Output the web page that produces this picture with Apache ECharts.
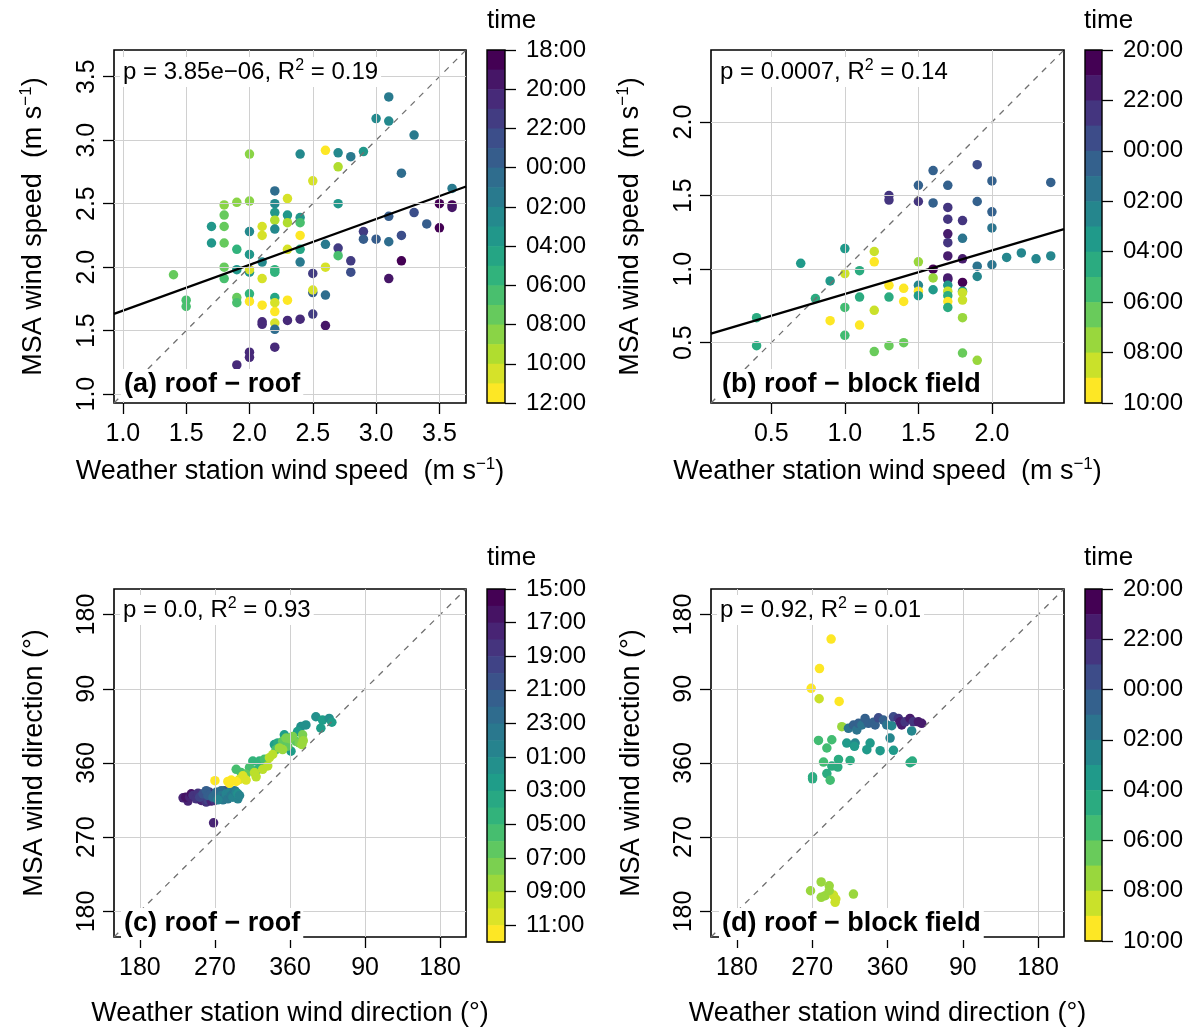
<!DOCTYPE html>
<html><head><meta charset="utf-8">
<script src="https://cdn.jsdelivr.net/npm/echarts@6/dist/echarts.min.js"></script>
<style>html,body{margin:0;padding:0;background:#fff}#c{width:1195px;height:1031px}</style>
</head><body><div id="c"></div>
<script>
// ---------------- DATA ----------------
// (a) roof - roof : wind speed
const aWs = [3.1,3.0,3.1,3.3,2.6,2.4,2.0,2.7,2.8,2.9, 2.7,3.2,2.5,2.2,2.3,3.6,1.8,1.9,2.0,2.2, 2.7,3.5,3.6,3.6,1.8,2.2,2.3,2.4,2.4,2.3, 2.2,2.2,1.7,1.8,2.1,2.0,2.1,2.4,3.3,3.4, 3.5,2.9,2.9,3.0,3.1,3.2,3.1,2.6,2.7,1.7, 1.8,1.9,2.0,2.1,2.3,2.4,2.4,2.7,2.8,3.2, 1.8,1.9,2.0,2.0,2.2,2.2,2.1,1.4,1.8,2.6, 2.5,2.8,3.1,1.5,1.5,1.9,1.9,2.0,2.0,2.1, 2.2,2.2,2.2,2.3,2.2,2.5,2.5,2.6,2.1,2.1, 2.2,2.3,2.4,2.5,2.6,2.2,2.0,2.0,1.9];
const aMsa = [3.34,3.17,3.15,3.04,2.92,2.89,2.89,2.90,2.87,2.91, 2.79,2.74,2.68,2.60,2.54,2.62,2.49,2.51,2.52,2.50, 2.50,2.50,2.49,2.47,2.41,2.43,2.41,2.39,2.35,2.35, 2.37,2.30,2.32,2.32,2.32,2.28,2.25,2.25,2.43,2.34, 2.31,2.28,2.22,2.22,2.20,2.25,2.40,2.18,2.15,2.19, 2.19,2.14,2.10,2.04,2.14,2.14,2.04,2.09,2.05,2.05, 2.00,1.98,1.96,1.98,1.98,1.96,1.91,1.94,1.91,2.00, 1.95,1.96,1.91,1.74,1.69,1.76,1.72,1.79,1.73,1.70, 1.76,1.72,1.65,1.74,1.56,1.80,1.82,1.78,1.57,1.55, 1.51,1.58,1.59,1.63,1.54,1.37,1.33,1.29,1.23];
const aTime = [1.5,2.5,2.5,1.5,11.5,2.5,8.5,2.5,1.0,3.0, 9.5,0.5,10.0,0.5,10.5,1.0,8.5,8.5,8.5,2.5, 3.0,18.5,18.5,19.5,7.5,3.0,3.5,3.5,6.5,9.0, 9.0,2.5,3.0,7.5,10.0,2.5,10.0,11.0,22.0,23.0, 18.5,21.5,23.5,23.5,0.0,22.0,23.0,1.0,21.5,3.0, 7.5,5.0,3.0,2.0,10.0,4.5,1.0,6.5,21.5,18.5, 7.0,3.5,3.5,10.5,5.0,5.5,10.0,7.0,6.5,10.0, 21.5,22.0,19.5,6.5,6.5,7.0,6.5,5.0,11.5,11.0, 4.0,10.5,11.5,11.5,10.5,23.5,10.0,0.5,20.5,20.0, 0.5,20.5,20.5,21.0,19.5,20.5,20.5,20.0,20.5];
const fitA = [1.296, 0.361];

// (b) roof - block field : wind speed
const bWs = [1.9,1.6,2.4,2.0,1.5,1.7,1.3,1.3,1.5,1.6, 1.7,1.9,2.0,1.7,1.8,2.0,1.7,1.8,1.7,1.0, 1.2,1.7,1.8,0.7,1.2,1.5,2.1,2.2,2.3,2.4, 1.6,1.9,2.0,1.0,1.1,0.9,1.6,1.7,1.7,1.8, 1.9,1.3,1.4,1.5,1.5,1.5,1.6,1.7,1.7,1.7, 1.7,1.7,1.8,1.8,1.8,1.8,0.8,1.1,1.3,1.4, 1.0,1.2,0.9,1.1,0.4,0.4,1.0,1.2,1.3,1.4, 1.8,1.9];
const bMsa = [1.71,1.67,1.59,1.60,1.57,1.57,1.50,1.47,1.46,1.45, 1.42,1.46,1.39,1.34,1.33,1.28,1.24,1.21,1.18,1.14, 1.12,1.09,1.07,1.04,1.05,1.05,1.08,1.11,1.07,1.09, 1.00,1.02,1.03,0.97,0.99,0.92,0.94,0.94,0.93,0.91, 0.95,0.89,0.87,0.89,0.85,0.82,0.86,0.89,0.85,0.82, 0.78,0.74,0.85,0.84,0.79,0.67,0.80,0.81,0.81,0.78, 0.74,0.72,0.65,0.62,0.67,0.48,0.55,0.44,0.48,0.50, 0.43,0.38];
const bTime = [23.5,0.5,0.5,0.5,0.5,0.5,22.5,22.5,22.5,0.0, 22.0,0.5,0.5,22.0,22.5,1.0,21.5,1.0,22.0,3.5, 8.5,21.5,21.5,3.5,9.0,7.5,2.0,2.0,2.0,2.0, 20.5,1.5,1.5,8.0,4.5,3.5,7.0,21.5,21.5,20.5, 2.5,9.0,9.5,2.5,9.0,3.0,3.5,3.0,8.0,4.0, 9.0,4.0,3.0,8.0,8.5,7.5,4.0,4.5,4.5,9.0, 5.0,8.0,9.0,9.5,4.0,4.5,5.5,6.0,6.0,6.5, 6.5,7.0];
const fitB = [0.535, 0.296];

// (c) roof - roof : wind direction (unwrapped degrees, 450 = 90)
const cWs = [237.7,231.8,235.0,239.7,241.7,243.7,247.7,249.7,253.7,255.7, 259.6,261.6,263.6,265.6,269.6,270.8,275.6,251.7,281.5,268.4,
 255.7,259.6,261.6,263.6,267.6,271.6,277.6,277.6,281.5,279.6, 273.6,283.5,285.5,287.5,289.5,291.5,293.5,295.5,297.5,297.5,299.5,
 373.1,379.1,391.0,399.0,407.0,410.2,397.0,369.1,361.2,341.3,353.2,349.2,
 345.3,325.4,315.4,323.4,321.4,329.3,311.4,301.4,295.5,343.3, 307.4,351.2,357.2,367.2,355.2,363.1,359.2,375.1,371.1,374.3, 375.9,351.2,347.2,339.3,327.3,335.3,333.3,319.4,317.4,
 307.4,303.4,299.5,295.5,289.5,287.5,285.5,270.0];
const cMsa = [313.8,317.8,318.6,318.6,322.6,320.6,316.6,323.4,314.6,318.6, 312.6,315.4,324.5,313.8,314.6,322.6,318.6,318.6,326.5,287.5,
 322.6,326.5,320.6,320.6,318.6,324.5,326.5,320.6,318.6,315.4, 315.4,322.6,316.6,324.5,320.6,318.6,326.5,324.5,316.6,322.6,320.6,
 404.2,406.2,416.1,412.1,414.1,409.4,402.2,398.2,374.3,382.3,394.2,384.3,
 384.3,360.4,362.4,362.4,352.4,364.4,354.4,348.4,352.4,376.3, 346.4,386.3,380.3,386.3,390.3,392.2,389.5,394.2,384.3,382.3, 387.1,376.3,378.3,370.3,352.4,366.4,356.4,343.3,348.4,
 339.3,344.4,340.1,337.7,339.3,335.3,337.7,338.5];
const cTime = [17.5,17.0,16.5,17.5,16.0,18.0,18.0,18.5,17.0,18.5, 18.0,19.0,18.5,17.5,18.0,19.0,19.5,19.5,20.0,17.5,
 20.5,21.0,21.0,21.5,22.0,22.5,22.0,23.0,22.5,23.5, 0.0,0.5,23.5,0.0,23.5,0.5,23.0,0.5,0.0,1.0,0.5,
 1.5,1.0,1.5,2.0,1.5,2.0,2.5,2.0,2.5,2.5,2.5,3.0,
 3.5,3.5,4.0,4.0,4.5,5.0,5.0,5.0,5.5,5.5, 6.0,6.0,6.5,6.5,7.0,7.0,7.5,7.5,7.5,8.0, 8.0,8.0,8.5,9.0,9.0,9.0,9.5,9.5,9.5,
 10.0,10.0,10.5,11.0,11.0,11.5,11.5,11.5];

// (d) roof - block field : wind direction
const dWs = [292.6,278.7,268.8,278.3,302.2,305.4, 313.3,319.3,323.3,325.3,329.3,333.2,337.2,343.2,345.2,349.2,355.1,359.1,365.1,367.1,373.0,375.0,377.0,381.0,386.9,390.9,396.9,400.9, 388.9,311.3,321.3,320.5,339.2,335.3,351.2,363.1,367.1,387.0,389.7,315.3,301.4,300.6,293.4,283.5,277.5,293.4,287.5,287.5,291.5,270.4,270.4, 280.7,268.0,290.3,280.7,285.5,295.4,298.2,297.4,319.3,290.3];
const dMsa = [510.3,474.5,450.6,437.9,434.7,404.1, 402.1,406.1,400.1,408.1,406.1,414.0,408.1,409.3,406.1,414.8,412.0,406.1,405.3,416.0,414.0,410.0,406.1,410.0,414.0,410.0,410.0,408.1, 398.9,384.2,384.2,380.2,384.2,376.2,375.0,390.2,375.4,360.3,362.3,363.1,364.3,355.1,356.3,361.1,387.4,388.2,378.2,347.2,339.2,343.2,340.8, 215.8,205.1,211.0,197.1,199.1,199.9,195.1,191.1,201.1,205.1];
const dTime = [9.5,9.0,9.5,8.5,9.0,7.5, 1.0,0.5,1.5,0.5,1.0,0.0,0.5,0.0,0.5,23.5,0.0,1.5,2.0,23.0,22.5,21.5,21.0,22.5,21.0,22.0,21.5,21.5, 2.5,3.0,2.5,3.0,3.0,3.5,3.0,2.5,3.0,4.0,4.0,4.0,4.0,4.5,4.5,5.0,5.5,5.5,5.0,4.5,5.0,4.5,4.5, 7.0,7.5,7.0,7.5,7.5,8.5,8.5,8.5,7.5,7.5];

// axis ticks
const speedTicksA = [1.0,1.5,2.0,2.5,3.0,3.5];
const speedTicksB = [0.5,1.0,1.5,2.0];
const dirTicks = [180,270,360,450,540];
const rangeA = [0.93,3.71];
const rangeB = [0.09,2.49];
const rangeDir = [149,571];

// colour bar (time) labels
const cbLabelsA = ['18:00','20:00','22:00','00:00','02:00','04:00','06:00','08:00','10:00','12:00'];
const cbLabelsB = ['20:00','22:00','00:00','02:00','04:00','06:00','08:00','10:00'];
const cbLabelsC = ['15:00','17:00','19:00','21:00','23:00','01:00','03:00','05:00','07:00','09:00','11:00'];
const cbLabelsD = ['20:00','22:00','00:00','02:00','04:00','06:00','08:00','10:00'];
const cbStart = [18,20,15,20];
const cbHours = [18,14,21,14];

const statTexts = ['p = 3.85e\u221206, R{sup|2} = 0.19','p = 0.0007, R{sup|2} = 0.14','p = 0.0, R{sup|2} = 0.93','p = 0.92, R{sup|2} = 0.01'];
const panelLabels = ['(a) roof \u2212 roof','(b) roof \u2212 block field','(c) roof \u2212 roof','(d) roof \u2212 block field'];

// ---------------- BUILD ----------------
const FONT = "'Liberation Sans', Arial, Helvetica, sans-serif";
const VIRIDIS = ['#440154','#482878','#3E4A89','#31688E','#26828E','#1F9E89','#35B779','#6DCD59','#B4DE2C','#FDE725'];
function hexToRgb(h){return [1,3,5].map(i=>parseInt(h.slice(i,i+2),16));}
function viridis(t){const n=VIRIDIS.length-1;const p=t*n;const i=Math.min(n-1,Math.floor(p));const f=p-i;const a=hexToRgb(VIRIDIS[i]),b=hexToRgb(VIRIDIS[i+1]);return 'rgb('+a.map((v,k)=>Math.round(v+(b[k]-v)*f)).join(',')+')';}
function palette(n){const out=[];for(let k=0;k<n;k++)out.push(viridis(k/(n-1)));return out;}

const speedFmt = v => v.toFixed(1);
const dirFmt = v => { const m = ((Math.round(v) % 360) + 360) % 360; return m === 0 ? '360' : String(m); };

const speedX = 'Weather station wind speed  (m s{sup|\u22121})';
const speedY = 'MSA wind speed  (m s{sup|\u22121})';
const dirX = 'Weather station wind direction (\u00b0)';
const dirY = 'MSA wind direction (\u00b0)';

const panels = [
  {x:aWs,y:aMsa,t:aTime,range:rangeA,ticks:speedTicksA,fmt:speedFmt,fit:fitA,xName:speedX,yName:speedY,cb:cbLabelsA,
   g:[114,50,352,353],cbg:[487,50,18,353],stat:[120,57],lab:[121,369],time:[487,6],xGap:53,yGap:64},
  {x:bWs,y:bMsa,t:bTime,range:rangeB,ticks:speedTicksB,fmt:speedFmt,fit:fitB,xName:speedX,yName:speedY,cb:cbLabelsB,
   g:[711,50,353,353],cbg:[1085,50,17,353],stat:[717,57],lab:[719,369],time:[1084,6],xGap:53,yGap:64},
  {x:cWs,y:cMsa,t:cTime,range:rangeDir,ticks:dirTicks,fmt:dirFmt,fit:null,xName:dirX,yName:dirY,cb:cbLabelsC,
   g:[114,589,352,353],cbg:[487,589,18,353],stat:[120,595],lab:[121,908],time:[487,543],xGap:61,yGap:63},
  {x:dWs,y:dMsa,t:dTime,range:rangeDir,ticks:dirTicks,fmt:dirFmt,fit:null,xName:dirX,yName:dirY,cb:cbLabelsD,
   g:[711,589,353,352],cbg:[1085,589,17,352],stat:[717,595],lab:[719,908],time:[1084,543],xGap:61,yGap:63}
];

const nameStyle = {fontSize:27,color:'#000',fontFamily:FONT,lineHeight:32,
  rich:{sup:{fontSize:17,lineHeight:17,verticalAlign:'top',color:'#000',fontFamily:FONT}}};

const option = {animation:false, backgroundColor:'#fff', grid:[], xAxis:[], yAxis:[], series:[], title:[]};

panels.forEach((p,i)=>{
  const lo = p.range[0], hi = p.range[1];
  option.grid.push({left:p.g[0],top:p.g[1],width:p.g[2],height:p.g[3],show:true,borderColor:'#000',borderWidth:1.6,backgroundColor:'rgba(0,0,0,0)'});
  option.xAxis.push({gridIndex:i,type:'value',min:lo,max:hi,
    axisLine:{show:false,onZero:false},splitLine:{show:false},
    axisTick:{show:true,customValues:p.ticks,length:11,lineStyle:{color:'#000',width:1.3}},
    axisLabel:{customValues:p.ticks,formatter:p.fmt,fontSize:25,color:'#000',fontFamily:FONT,margin:19},
    name:p.xName,nameLocation:'middle',nameGap:p.xGap,nameTextStyle:nameStyle});
  option.yAxis.push({gridIndex:i,type:'value',min:lo,max:hi,
    axisLine:{show:false,onZero:false},splitLine:{show:false},
    axisTick:{show:true,customValues:p.ticks,length:11,lineStyle:{color:'#000',width:1.3}},
    axisLabel:{customValues:p.ticks,formatter:p.fmt,rotate:90,fontSize:25,color:'#000',fontFamily:FONT,margin:14},
    name:p.yName,nameLocation:'middle',nameGap:p.yGap,nameTextStyle:nameStyle});

  // grid lines
  option.series.push({type:'line',xAxisIndex:i,yAxisIndex:i,data:[[lo,lo]],symbol:'none',lineStyle:{width:0},silent:true,z:0,
    markLine:{silent:true,symbol:['none','none'],label:{show:false},animation:false,
      lineStyle:{color:'#d0d0d0',width:1,type:'solid'},
      data:[...p.ticks.map(v=>({xAxis:v})),...p.ticks.map(v=>({yAxis:v}))]}});

  // points
  const n = cbHours[i];
  const pal = palette(n);
  const pts = p.x.map((x,k)=>{
    const el = ((p.t[k]-cbStart[i])%24+24)%24;
    const band = Math.min(n-1,Math.floor(el));
    return {value:[x,p.y[k]],itemStyle:{color:pal[band],opacity:1}};
  });
  option.series.push({type:'scatter',xAxisIndex:i,yAxisIndex:i,symbolSize:9.5,z:2,data:pts,silent:true,itemStyle:{opacity:1}});

  // 1:1 line
  option.series.push({type:'line',xAxisIndex:i,yAxisIndex:i,data:[[lo,lo],[hi,hi]],symbol:'none',silent:true,z:3,
    lineStyle:{color:'#707070',width:1.3,type:[6,6]}});
  // regression line
  if(p.fit){
    option.series.push({type:'line',xAxisIndex:i,yAxisIndex:i,silent:true,z:4,symbol:'none',
      data:[[lo,p.fit[0]+p.fit[1]*lo],[hi,p.fit[0]+p.fit[1]*hi]],lineStyle:{color:'#000',width:2.2}});
  }

  // texts
  option.title.push({text:statTexts[i],left:p.stat[0],top:p.stat[1],padding:[1,3,1,3],backgroundColor:'#fff',
    textStyle:{fontSize:24,fontWeight:'normal',color:'#000',fontFamily:FONT,lineHeight:28,
      rich:{sup:{fontSize:16,lineHeight:16,verticalAlign:'top',color:'#000',fontFamily:FONT}}}});
  option.title.push({text:panelLabels[i],left:p.lab[0],top:p.lab[1],padding:[1,3,1,3],backgroundColor:'#fff',
    textStyle:{fontSize:27,fontWeight:'bold',color:'#000',fontFamily:FONT,lineHeight:30}});
  option.title.push({text:'time',left:p.time[0],top:p.time[1],padding:0,
    textStyle:{fontSize:26,fontWeight:'normal',color:'#000',fontFamily:FONT,lineHeight:30}});
});

// colour bars
panels.forEach((p,i)=>{
  const gi = option.grid.length;
  const n = cbHours[i];
  const pal = palette(n);
  const pos = p.cb.map((_,k)=>k*2);
  option.grid.push({left:p.cbg[0],top:p.cbg[1],width:p.cbg[2],height:p.cbg[3],show:false});
  option.xAxis.push({gridIndex:gi,type:'value',min:0,max:1,show:false});
  option.yAxis.push({gridIndex:gi,type:'value',min:0,max:n,inverse:true,position:'right',
    axisLine:{show:false,onZero:false},splitLine:{show:false},
    axisTick:{show:true,customValues:pos,length:11,lineStyle:{color:'#000',width:1.3}},
    axisLabel:{customValues:pos,formatter:v=>p.cb[Math.round(v/2)],fontSize:24,color:'#000',fontFamily:FONT,margin:21}});
  option.series.push({type:'custom',xAxisIndex:gi,yAxisIndex:gi,silent:true,z:2,
    data:pal.map((c,k)=>[0,k]),
    renderItem:(params,api)=>{
      const k = api.value(1);
      const a = api.coord([0,k]), b = api.coord([1,k+1]);
      return {type:'rect',shape:{x:a[0],y:Math.min(a[1],b[1]),width:b[0]-a[0],height:Math.abs(b[1]-a[1])+0.6},style:{fill:pal[k]}};
    }});
  option.series.push({type:'custom',xAxisIndex:gi,yAxisIndex:gi,silent:true,z:3,
    data:[[0,0]],
    renderItem:(params,api)=>{
      const a = api.coord([0,0]), b = api.coord([1,n]);
      return {type:'rect',shape:{x:a[0],y:Math.min(a[1],b[1]),width:b[0]-a[0],height:Math.abs(b[1]-a[1])},style:{fill:'none',stroke:'#000',lineWidth:1.4}};
    }});
});

const chart = echarts.init(document.getElementById('c'),null,{renderer:'canvas'});
chart.setOption(option);
</script>
</body></html>
